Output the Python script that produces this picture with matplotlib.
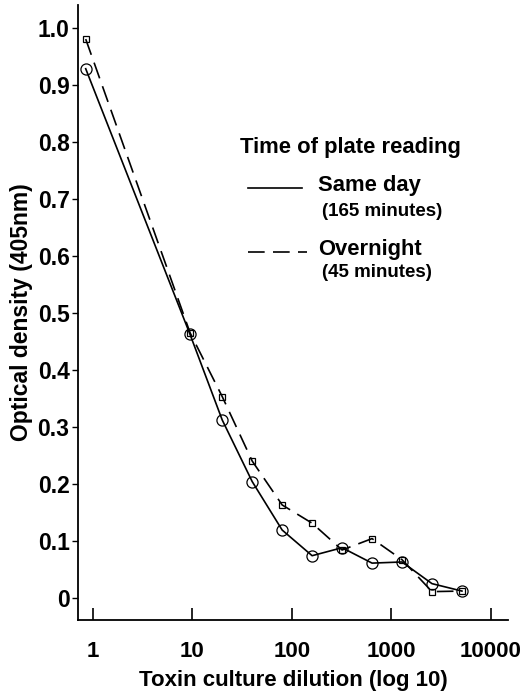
import matplotlib
matplotlib.use("Agg")
import matplotlib.pyplot as plt
import numpy as np

# dilution (x) and optical density readings
dilution = [0.85, 9.5, 20, 40, 80, 160, 320, 640, 1280, 2560, 5120]
same_day = [0.928, 0.462, 0.312, 0.204, 0.119, 0.074, 0.088, 0.061, 0.063, 0.025, 0.012]
overnight = [0.980, 0.465, 0.353, 0.240, 0.163, 0.131, 0.084, 0.104, 0.067, 0.011, 0.012]

x_ticks = [1, 10, 100, 1000, 10000]
x_ticklabels = ["1", "10", "100", "1000", "10000"]
y_ticks = [0, 0.1, 0.2, 0.3, 0.4, 0.5, 0.6, 0.7, 0.8, 0.9, 1.0]
y_ticklabels = ["0", "0.1", "0.2", "0.3", "0.4", "0.5", "0.6", "0.7", "0.8", "0.9", "1.0"]

def main():
    plt.rcParams['font.family'] = ['Liberation Sans', 'DejaVu Sans']
    plt.rcParams['font.weight'] = 'bold'

    fig = plt.figure(figsize=(5.23, 6.96), dpi=100)
    ax = fig.add_axes([0.149, 0.109, 0.822, 0.884])

    ax.plot(dilution, same_day, color='black', linewidth=1.2,
            marker='o', markersize=8, markerfacecolor='none', markeredgewidth=0.9)
    ax.plot(dilution, overnight, color='black', linewidth=1.2, dashes=(10, 5),
            marker='s', markersize=4.5, markerfacecolor='none', markeredgewidth=0.9)

    ax.set_xscale('log')
    ax.set_xlim(0.71, 14800)
    ax.set_ylim(-0.039, 1.04)
    ax.set_xticks(x_ticks)
    ax.set_xticklabels(x_ticklabels)
    ax.minorticks_off()
    ax.set_yticks(y_ticks)
    ax.set_yticklabels(y_ticklabels)

    ax.spines['top'].set_visible(False)
    ax.spines['right'].set_visible(False)
    ax.spines['left'].set_linewidth(1.3)
    ax.spines['bottom'].set_linewidth(1.3)
    ax.tick_params(axis='x', direction='in', length=9, width=1.2, pad=15, labelsize=16)
    ax.tick_params(axis='y', direction='out', length=4, width=1.0, pad=2, labelsize=16.5)

    ax.set_xlabel('Toxin culture dilution (log 10)', fontsize=16, fontweight='bold', labelpad=6)
    ax.set_ylabel('Optical density (405nm)', fontsize=16.5, fontweight='bold', labelpad=3)

    # hand-drawn style legend
    fig.text(240 / 523, 1 - 147 / 696, 'Time of plate reading', fontsize=15.8, fontweight='bold', va='center')
    fig.add_artist(plt.Line2D([248 / 523, 302 / 523], [1 - 188 / 696] * 2, color='black', linewidth=1.2))
    fig.text(318 / 523, 1 - 186 / 696, 'Same day', fontsize=15.8, fontweight='bold', va='center')
    fig.text(322 / 523, 1 - 212 / 696, '(165 minutes)', fontsize=13.5, fontweight='bold', va='center')
    fig.add_artist(plt.Line2D([248 / 523, 307 / 523], [1 - 252 / 696] * 2, color='black', linewidth=1.2, dashes=(10, 5)))
    fig.text(318 / 523, 1 - 250 / 696, 'Overnight', fontsize=15.8, fontweight='bold', va='center')
    fig.text(322 / 523, 1 - 273 / 696, '(45 minutes)', fontsize=13.5, fontweight='bold', va='center')

    fig.savefig('out.png', dpi=100)

if __name__ == "__main__":
    main()
